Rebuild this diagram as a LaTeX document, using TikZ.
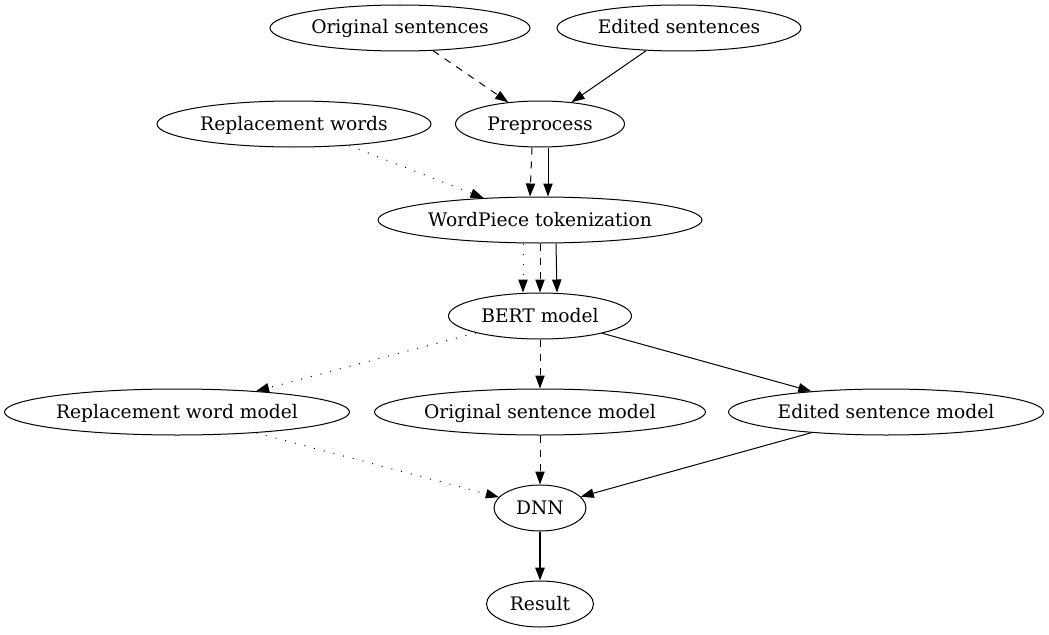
\documentclass[tikz,border=0pt]{standalone}
\usepackage{fontspec}
\setmainfont{DejaVu Serif}
\usetikzlibrary{shapes.geometric, arrows.meta}

\tikzset{
  stage/.style={draw, ellipse, inner sep=0pt, minimum height=34.5pt, line width=0.75pt,
    text height=12pt, text depth=3pt, font=\fontsize{14}{16}\selectfont},
  flow/.style={line width=0.75pt, -{Triangle[length=9.75pt, width=7pt]}},
  dotflow/.style={flow, dash pattern=on 0.75pt off 6.75pt},
  dashflow/.style={flow, dash pattern=on 5.25pt off 5.25pt}
}

\begin{document}
\begin{tikzpicture}[x=0.75pt, y=-0.75pt]

\useasboundingbox (0,0) rectangle (1049,635);

% inputs
\node[stage, minimum width=195pt] (origsent) at (400, 28) {Original sentences};
\node[stage, minimum width=183pt] (editsent) at (679, 28) {Edited sentences};
\node[stage, minimum width=205.5pt] (replwords) at (294, 124) {Replacement words};
\node[stage, minimum width=126.75pt] (prep) at (540, 124) {Preprocess};

% tokens and encoder
\node[stage, minimum width=243pt] (wordpiece) at (540, 220) {WordPiece tokenization};
\node[stage, minimum width=137.25pt] (bert) at (540, 316) {BERT model};

% branch models
\node[stage, minimum width=258.75pt] (replmodel) at (177, 412) {Replacement word model};
\node[stage, minimum width=248.25pt] (origmodel) at (540, 412) {Original sentence model};
\node[stage, minimum width=236.25pt] (editmodel) at (886, 412) {Edited sentence model};

% output
\node[stage, minimum width=69pt] (dnn) at (540, 508) {DNN};
\node[stage, minimum width=80.25pt] (result) at (540, 604) {Result};

\draw[dashflow] (origsent) -- (prep);
\draw[flow] (editsent) -- (prep);
\draw[dotflow] (replwords) -- (wordpiece);
\draw[dashflow] ([xshift=-6pt]prep.south) -- ([xshift=-7.5pt]wordpiece.north);
\draw[flow] ([xshift=6pt]prep.south) -- ([xshift=6pt]wordpiece.north);

\draw[dotflow] ([xshift=-12.75pt]wordpiece.south) -- ([xshift=-12.75pt]bert.north);
\draw[dashflow] (wordpiece.south) -- (bert.north);
\draw[flow] ([xshift=12pt]wordpiece.south) -- ([xshift=12.75pt]bert.north);

\draw[dotflow] (bert) -- (replmodel);
\draw[dashflow] (bert) -- (origmodel);
\draw[flow] (bert) -- (editmodel);

\draw[dotflow] (replmodel) -- (dnn);
\draw[dashflow] (origmodel) -- (dnn);
\draw[flow] (editmodel) -- (dnn);

\draw[flow, line width=1.5pt] (dnn) -- (result);

\end{tikzpicture}
\end{document}
